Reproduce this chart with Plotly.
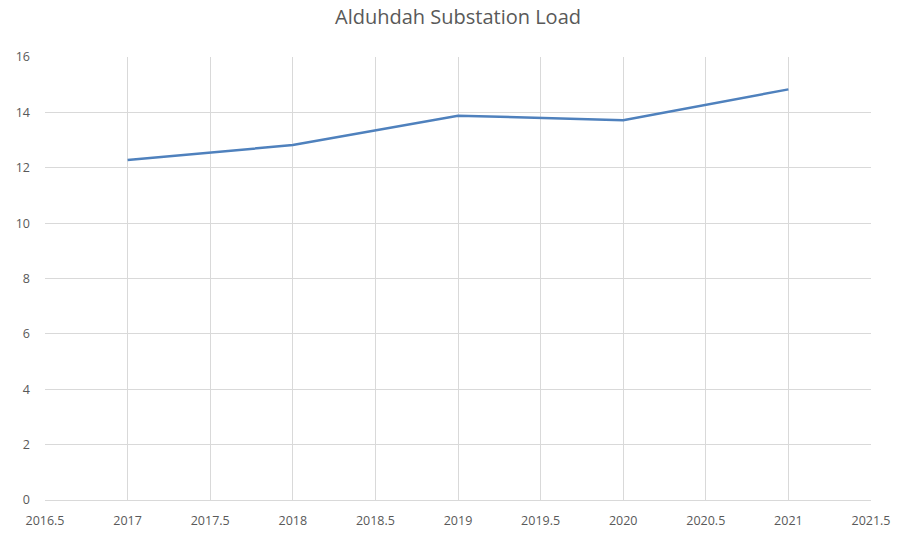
import plotly.graph_objects as go

years = [2017, 2018, 2019, 2020, 2021]
load = [12.28, 12.82, 13.88, 13.72, 14.83]
title = "Alduhdah Substation Load"

fig = go.Figure()
fig.add_trace(go.Scatter(x=years, y=load, mode="lines",
                         line=dict(color="#4F81BD", width=2.5), showlegend=False))

grid = "#d9d9d9"
fam = "Open Sans, Liberation Sans, sans-serif"
tickfont = dict(family=fam, size=12.5, color="#595959")
fig.update_layout(
    width=899, height=535,
    margin=dict(l=45, r=28, t=57, b=35, autoexpand=False),
    paper_bgcolor="white", plot_bgcolor="white",
    title=dict(text=title, x=0.5, xref="paper", y=1 - 17 / 535, yref="container",
               xanchor="center", yanchor="middle",
               font=dict(family=fam, size=20, color="#595959")),
    xaxis=dict(range=[2016.5, 2021.5], dtick=0.5, tick0=2016.5, tickformat=".1~f",
               showgrid=True, gridcolor=grid, gridwidth=1, automargin=False,
               zeroline=False, showline=True, linecolor=grid, linewidth=1,
               tickfont=tickfont, ticks="", ticklabelstandoff=9),
    yaxis=dict(range=[0, 16], dtick=2, showgrid=True, gridcolor=grid, gridwidth=1,
               automargin=False, zeroline=False, showline=False, tickfont=tickfont,
               ticks="", ticklabelstandoff=14),
)
fig.write_html("out.html", config={"displayModeBar": False},
               post_script="document.body.style.margin='0';document.body.style.overflow='hidden';")
